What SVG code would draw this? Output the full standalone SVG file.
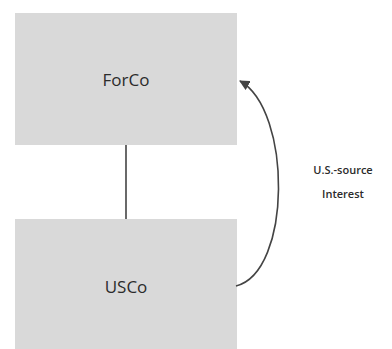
<svg xmlns="http://www.w3.org/2000/svg" width="392" height="349" viewBox="0 0 392 349">
<style>
.box{fill:#d9d9d9;stroke:none}
.lbl{font-family:"Open Sans","Liberation Sans",sans-serif;fill:#2b2b2b;text-anchor:middle}
.big{font-size:17px}
.small{font-size:11px;font-weight:600}
.conn{stroke:#444;stroke-width:1.6;fill:none}
</style>
<defs>
<marker id="arr" viewBox="0 0 10 10" refX="9" refY="5" markerWidth="6.5" markerHeight="6.5" orient="auto" markerUnits="strokeWidth">
<path d="M0,0 L10,5 L0,10 z" fill="#444"/>
</marker>
</defs>
<rect width="392" height="349" fill="#fff"/>
<g id="forco">
<rect class="box" x="15" y="13" width="222" height="132"/>
<text class="lbl big" x="126" y="86">ForCo</text>
</g>
<g id="usco">
<rect class="box" x="15" y="219" width="222" height="130"/>
<text class="lbl big" x="126" y="293">USCo</text>
</g>
<g id="connectors">
<line class="conn" x1="126" y1="145" x2="126" y2="219"/>
<path class="conn" d="M236,286 C292,272 292,110 240,81" marker-end="url(#arr)"/>
</g>
<g id="label">
<text class="lbl small" x="343" y="174">U.S.-source</text>
<text class="lbl small" x="343" y="198">Interest</text>
</g>
</svg>
